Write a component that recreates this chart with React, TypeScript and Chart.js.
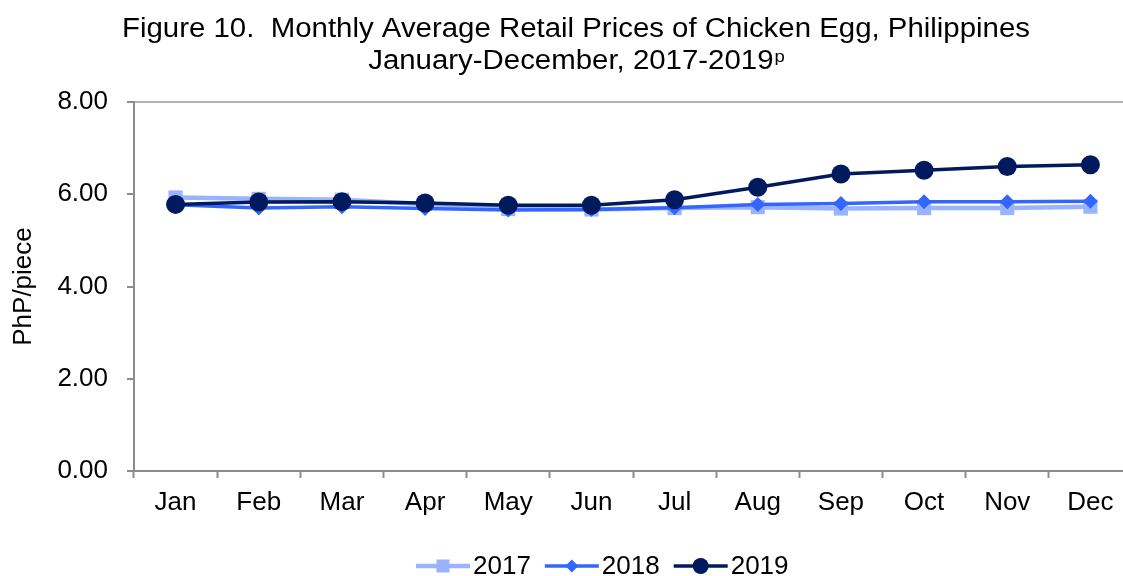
import React, { useEffect, useRef } from "react";
import { Chart, registerables } from "chart.js";

Chart.register(...registerables);

const months = ["Jan", "Feb", "Mar", "Apr", "May", "Jun", "Jul", "Aug", "Sep", "Oct", "Nov", "Dec"];
const prices2017 = [5.93, 5.9, 5.88, 5.79, 5.68, 5.67, 5.7, 5.72, 5.69, 5.7, 5.7, 5.73];
const prices2018 = [5.77, 5.7, 5.73, 5.69, 5.66, 5.67, 5.71, 5.78, 5.8, 5.84, 5.84, 5.85];
const prices2019 = [5.78, 5.83, 5.84, 5.81, 5.76, 5.76, 5.88, 6.15, 6.44, 6.52, 6.6, 6.64];
const yTicks = [0, 2, 4, 6, 8];
const titleLine1 = "Figure 10.  Monthly Average Retail Prices of Chicken Egg, Philippines";
const titleLine2 = "January-December, 2017-2019";
const titleSup = "p";
const yTitle = "PhP/piece";

const C2017 = "#99B3FF";
const C2018 = "#3366FF";
const C2019 = "#011A5E";
const FONT = "'Liberation Sans', Arial, sans-serif";

const legendItems = [
  { label: "2017", color: C2017, style: "rect", lw: 4.5 },
  { label: "2018", color: C2018, style: "rectRot", lw: 3.5 },
  { label: "2019", color: C2019, style: "circle", lw: 3.5 },
];

function drawMarker(ctx: CanvasRenderingContext2D, style: string, x: number, y: number, color: string) {
  ctx.fillStyle = color;
  ctx.beginPath();
  if (style === "rect") {
    ctx.rect(x - 6.5, y - 6.5, 13, 13);
  } else if (style === "rectRot") {
    const r = 6.5;
    ctx.moveTo(x, y - r);
    ctx.lineTo(x + r, y);
    ctx.lineTo(x, y + r);
    ctx.lineTo(x - r, y);
    ctx.closePath();
  } else {
    ctx.arc(x, y, 8, 0, Math.PI * 2);
  }
  ctx.fill();
}

const decorPlugin = {
  id: "decor",
  afterDraw(chart: any) {
    const ctx: CanvasRenderingContext2D = chart.ctx;
    ctx.save();
    // Title
    ctx.fillStyle = "#000";
    ctx.textBaseline = "middle";
    ctx.textAlign = "center";
    ctx.font = `27px ${FONT}`;
    const w1 = ctx.measureText(titleLine1).width;
    const sx = 908 / w1;
    const cx = 576;
    ctx.save();
    ctx.translate(cx, 30);
    ctx.scale(sx, 1);
    ctx.fillText(titleLine1, 0, 0);
    ctx.restore();
    ctx.font = `27px ${FONT}`;
    const w2 = ctx.measureText(titleLine2).width;
    ctx.font = `17px ${FONT}`;
    const ws = ctx.measureText(titleSup).width;
    const total = (w2 + ws) * sx;
    const startX = cx - total / 2;
    ctx.save();
    ctx.translate(startX, 62);
    ctx.scale(sx, 1);
    ctx.textAlign = "left";
    ctx.font = `27px ${FONT}`;
    ctx.fillText(titleLine2, 0, 0);
    ctx.font = `17px ${FONT}`;
    ctx.fillText(titleSup, w2 + 1, -5);
    ctx.restore();

    // Legend
    ctx.font = `26px ${FONT}`;
    ctx.textAlign = "left";
    const ly = 566;
    let x = 416;
    for (const it of legendItems) {
      ctx.strokeStyle = it.color;
      ctx.lineWidth = it.lw;
      ctx.beginPath();
      ctx.moveTo(x, ly);
      ctx.lineTo(x + 54, ly);
      ctx.stroke();
      drawMarker(ctx, it.style, x + 27, ly, it.color);
      ctx.fillStyle = "#000";
      ctx.fillText(it.label, x + 57, ly + 1);
      x += 57 + ctx.measureText(it.label).width + 14;
    }
    ctx.restore();
  },
};

export default function App() {
  const ref = useRef<HTMLCanvasElement | null>(null);
  useEffect(() => {
    if (!ref.current) return;
    const chart = new Chart(ref.current, {
      type: "line",
      data: {
        labels: months,
        datasets: [
          {
            label: "2017",
            data: prices2017,
            borderColor: C2017,
            backgroundColor: C2017,
            borderWidth: 4.5,
            pointStyle: "rect",
            pointRadius: 10,
            pointBorderWidth: 0,
            order: 3,
          },
          {
            label: "2018",
            data: prices2018,
            borderColor: C2018,
            backgroundColor: C2018,
            borderWidth: 3.5,
            pointStyle: "rectRot",
            pointRadius: 7.5,
            pointBorderWidth: 0,
            order: 2,
          },
          {
            label: "2019",
            data: prices2019,
            borderColor: C2019,
            backgroundColor: C2019,
            borderWidth: 3.5,
            pointStyle: "circle",
            pointRadius: 9.5,
            pointBorderWidth: 0,
            order: 1,
          },
        ],
      },
      options: {
        animation: false,
        responsive: false,
        devicePixelRatio: 1,
        layout: { padding: { top: 102, right: 28, bottom: 45, left: 0 } },
        plugins: {
          legend: { display: false },
          title: { display: false },
          tooltip: { enabled: false },
        },
        scales: {
          x: {
            offset: true,
            grid: {
              offset: true,
              drawOnChartArea: false,
              tickLength: 7,
              tickColor: "#8c8c8c",
              tickWidth: 2,
            },
            border: { color: "#8c8c8c", width: 2 },
            ticks: {
              color: "#000",
              font: { family: FONT, size: 26 },
              padding: 9,
              maxRotation: 0,
              autoSkip: false,
            },
            afterFit: (s: any) => {
              s.height = 60;
            },
          },
          y: {
            min: 0,
            max: 8,
            afterBuildTicks: (s: any) => {
              s.ticks = yTicks.map((v) => ({ value: v }));
            },
            grid: {
              color: (c: any) => (c.tick && c.tick.value === 8 ? "#b4b4b4" : "rgba(0,0,0,0)"),
              lineWidth: 2,
              tickLength: 7,
              tickColor: "#8c8c8c",
              tickWidth: 2,
            },
            border: { color: "#8c8c8c", width: 2 },
            ticks: {
              color: "#000",
              font: { family: FONT, size: 26 },
              padding: 19,
              callback: (v: any) => Number(v).toFixed(2),
            },
            title: {
              display: true,
              text: yTitle,
              color: "#000",
              font: { family: FONT, size: 26 },
              padding: { top: 8, bottom: 0 },
            },
            afterFit: (s: any) => {
              s.width = 134;
            },
          },
        },
      },
      plugins: [decorPlugin],
    });
    return () => chart.destroy();
  }, []);
  return (
    <div
      style={{
        position: "fixed",
        left: 0,
        top: 0,
        width: 1123,
        height: 576,
        overflow: "hidden",
        background: "#fff",
      }}
    >
      <canvas ref={ref} width={1160} height={576} style={{ width: 1160, height: 576, display: "block" }} />
    </div>
  );
}
